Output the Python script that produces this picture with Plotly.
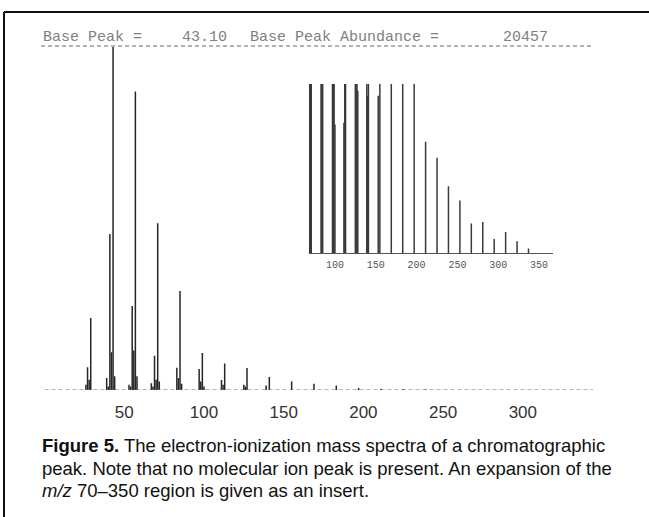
import plotly.graph_objects as go

# ---- main spectrum (relative abundance, % of base peak m/z 43) ----
main_mz = [26, 27, 28, 29, 39, 40, 41, 42, 43, 44, 53, 54, 55, 56, 57, 58,
           67, 68, 69, 70, 71, 72, 83, 84, 85, 86, 97, 98, 99, 100,
           111, 112, 113, 125, 126, 127, 139, 141, 155, 169, 183, 197, 211, 225, 239]
main_ab = [1.5, 6.6, 3.0, 21.0, 3.5, 1.0, 45.5, 11.0, 100.0, 4.0, 1.5, 1.0, 24.5, 11.5, 87.0, 4.0,
           2.0, 1.0, 10.0, 3.0, 48.6, 2.5, 6.5, 3.5, 28.9, 1.8, 6.1, 2.5, 10.8, 1.0,
           2.9, 1.5, 7.7, 1.5, 1.0, 6.4, 1.3, 3.8, 2.5, 1.8, 1.3, 0.6, 0.4, 0.3, 0.2]

# ---- insert: expansion of m/z 70-350 (inset scale, clipped at top) ----
ins_mz = [69, 70, 71, 83, 84, 85, 97, 98, 99, 100, 111, 112, 113,
          125, 126, 127, 128, 139, 140, 141, 153, 155, 169, 183, 197,
          211, 225, 239, 253, 267, 281, 295, 309, 323, 337]
ins_ab = [130, 110, 150, 120, 110, 150, 120, 110, 150, 76, 77, 110, 150,
          110, 120, 150, 96, 110, 93, 150, 93, 150, 150, 150, 150,
          65.8, 56.3, 39.5, 31.0, 17.4, 18.4, 8.3, 12.5, 6.9, 2.6]

main_ticks = [50, 100, 150, 200, 250, 300]
ins_ticks = [100, 150, 200, 250, 300, 350]

W, H = 649, 517


def stems(xs, ys):
    sx, sy = [], []
    for x, y in zip(xs, ys):
        sx += [x, x, None]
        sy += [0, y, None]
    return sx, sy


mx, my = stems(main_mz, main_ab)
ix, iy = stems(ins_mz, ins_ab)

fig = go.Figure()
fig.add_trace(go.Scatter(x=mx, y=my, mode="lines", line=dict(color="#262626", width=1.5),
                         xaxis="x", yaxis="y", hoverinfo="skip", showlegend=False))
fig.add_trace(go.Scatter(x=ix, y=iy, mode="lines", line=dict(color="#3a3a3a", width=1.5),
                         xaxis="x2", yaxis="y2", hoverinfo="skip", showlegend=False, cliponaxis=True))


def px(x):
    return x / W


def py(y):
    return (H - y) / H


fig.update_layout(
    width=W, height=H, margin=dict(l=0, r=0, t=0, b=0),
    paper_bgcolor="white", plot_bgcolor="rgba(0,0,0,0)",
    showlegend=False,
    xaxis=dict(domain=[px(44.5), px(593)], range=[0, 344], showgrid=False, zeroline=False,
               showline=False, tickmode="array", tickvals=main_ticks,
               ticktext=[str(t) for t in main_ticks], ticks="",
               tickfont=dict(family="Liberation Sans, Arial", size=17, color="#333"),
               ticklabelstandoff=10),
    yaxis=dict(domain=[py(390), py(46)], range=[0, 100.3], showgrid=False, zeroline=False,
               showline=False, showticklabels=False, ticks=""),
    xaxis2=dict(domain=[px(308.8), px(553)], range=[68, 367], anchor="y2", showgrid=False,
                zeroline=False, showline=True, linecolor="#555", linewidth=1,
                tickmode="array", tickvals=ins_ticks, ticktext=[str(t) for t in ins_ticks],
                ticks="", tickfont=dict(family="Liberation Mono, monospace", size=10, color="#555"),
                ticklabelstandoff=2),
    yaxis2=dict(domain=[py(253), py(84)], range=[0, 100], anchor="x2", showgrid=False,
                zeroline=False, showline=False, showticklabels=False, ticks=""),
)

# dashed baseline of the main spectrum and dashed line under the header
fig.add_shape(type="line", xref="x", yref="y", x0=0, x1=344, y0=0, y1=0,
              line=dict(color="#666", width=1, dash="4px,3px"))
fig.add_shape(type="line", xref="paper", yref="paper", x0=px(41), x1=px(594), y0=py(46), y1=py(46),
              line=dict(color="#666", width=1, dash="4px,3px"))
# frame lines
fig.add_shape(type="line", xref="paper", yref="paper", x0=px(4), x1=1, y0=py(12), y1=py(12),
              line=dict(color="#111", width=2))
fig.add_shape(type="line", xref="paper", yref="paper", x0=px(4), x1=px(4), y0=py(12), y1=0,
              line=dict(color="#111", width=2))

# header text pieces
hdr_font = dict(family="Liberation Mono, DejaVu Sans Mono, monospace", size=15, color="#808080")
for txt, x0 in [("Base Peak =", 41), ("43.10", 180), ("Base Peak Abundance =", 248), ("20457", 501)]:
    fig.add_annotation(text=txt, xref="paper", yref="paper", x=px(x0), y=py(37),
                       xanchor="left", yanchor="middle", showarrow=False, font=hdr_font)

# caption
cap_font = dict(family="Liberation Sans Narrow, Liberation Sans, Arial", size=18.5, color="#111")
caption = [
    "<b>Figure 5.</b> The electron-ionization mass spectra of a chromatographic",
    "peak. Note that no molecular ion peak is present. An expansion of the",
    "<i>m/z</i> 70\u2013350 region is given as an insert.",
]
for i, line in enumerate(caption):
    fig.add_annotation(text=line, xref="paper", yref="paper", x=px(40), y=py(446 + 22 * i),
                       xanchor="left", yanchor="middle", showarrow=False, font=cap_font)

fig.write_html("out.html", config={"displayModeBar": False},
               post_script="document.body.style.margin='0';document.body.style.padding='0';")
